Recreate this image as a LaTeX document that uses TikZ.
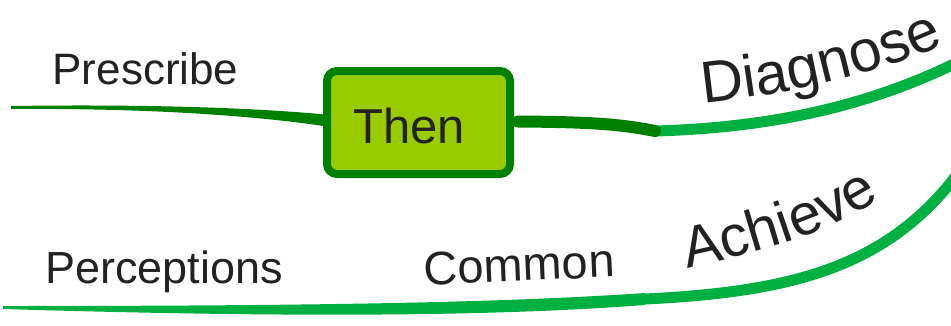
\documentclass[tikz,border=0pt]{standalone}
\usepackage{fontspec}
\setmainfont{Liberation Sans}
\usetikzlibrary{decorations.text}
\definecolor{dkgreen}{HTML}{008000}
\definecolor{ltgreen}{HTML}{00B040}
\definecolor{boxfill}{HTML}{99CC00}
\definecolor{txt}{HTML}{222222}
\tikzset{
  lbl/.style={text=txt, inner sep=0pt, anchor=base},
  thenbox/.style={draw=dkgreen, fill=boxfill, line width=8pt, rounded corners=10pt,
    minimum width=183pt, minimum height=103pt, inner sep=0pt},
  mainbranch/.style={draw=ltgreen, line width=11pt},
  darkbranch/.style={draw=dkgreen, line width=12pt, line cap=round},
}
\begin{document}
\begin{tikzpicture}[x=1pt,y=-1pt]
\useasboundingbox (0,0) rectangle (951,325);
% coordinates
\coordinate (preL) at (11,107.5);
\coordinate (percL) at (3,307.5);
\coordinate (kink) at (645,299);
\coordinate (topR) at (956,63);
\coordinate (botR) at (956,176);
\coordinate (darkEnd) at (655,131);
% lower branch, tapered part
\fill[ltgreen] (3,306) .. controls (300,306) and (500,303) .. (645,293)
  -- (645,305) .. controls (500,316) and (300,318) .. (3,309) -- cycle;
\draw[mainbranch] (kink) .. controls (790,292) and (885,268) .. (botR);
% upper right branch
\draw[mainbranch, line width=11pt] (darkEnd) .. controls (760,128) and (860,110) .. (topR);
% Prescribe tapered branch
\fill[dkgreen] (11,106) .. controls (150,104) and (260,108) .. (330,115)
  -- (330,127) .. controls (260,116) and (150,108) .. (11,109) -- cycle;
% central box
\node[thenbox] (then) at (418.5,122.5) {};
\draw[darkbranch] ([xshift=4pt]then.east |- 0,121.5) .. controls (590,122) and (620,124) .. (darkEnd);
\node[lbl, font=\fontsize{49}{49}\selectfont] (thenlbl) at (409,143) {Then};
% labels
\node[lbl, font=\fontsize{44}{44}\selectfont] (prescribe) at (145.5,84) {Prescribe};
\node[lbl, font=\fontsize{45}{45}\selectfont] (perceptions) at (164,283.5) {Perceptions};
\node[lbl, font=\fontsize{47}{47}\selectfont, rotate=2.5] (common) at (520,281) {Common};
\path[decorate, decoration={text along path, text color=txt,
  text={|\fontsize{59}{59}\selectfont|Diagnose}}]
  (703,103) .. controls (783,95) and (883,75) .. (952,40);
\path[decorate, decoration={text along path, text color=txt,
  text={|\fontsize{58}{58}\selectfont|Achieve}}]
  (687,268) .. controls (761,252) and (841,232) .. (906,180);
\end{tikzpicture}
\end{document}
